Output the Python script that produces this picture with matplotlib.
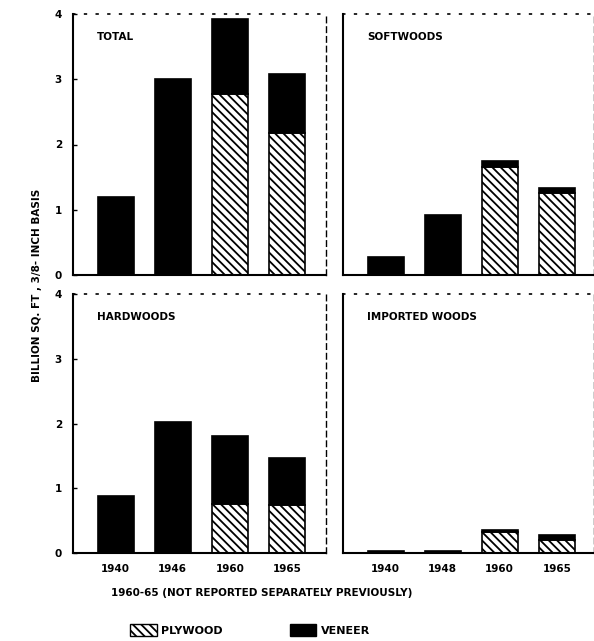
import numpy as np
import matplotlib.pyplot as plt
from matplotlib.patches import Patch

# values, billion sq. ft., 3/8-inch basis
years_left = ['1940', '1946', '1960', '1965']
years_right = ['1940', '1948', '1960', '1965']

total_plywood = [0.0, 0.0, 2.78, 2.18]
total_veneer = [1.2, 3.0, 1.15, 0.9]

soft_plywood = [0.0, 0.0, 1.65, 1.25]
soft_veneer = [0.27, 0.92, 0.1, 0.09]

hard_plywood = [0.0, 0.0, 0.75, 0.74]
hard_veneer = [0.88, 2.02, 1.05, 0.72]

imp_plywood = [0.0, 0.0, 0.32, 0.2]
imp_veneer = [0.03, 0.03, 0.04, 0.08]

panels = [
    ('TOTAL', total_plywood, total_veneer),
    ('SOFTWOODS', soft_plywood, soft_veneer),
    ('HARDWOODS', hard_plywood, hard_veneer),
    ('IMPORTED WOODS', imp_plywood, imp_veneer),
]

plt.rcParams['font.family'] = 'DejaVu Sans'
plt.rcParams['font.weight'] = 'bold'
plt.rcParams['hatch.linewidth'] = 1.3

W, H = 594, 641
fig = plt.figure(figsize=(W / 100, H / 100), dpi=100)

# axes boxes in pixels: (left, top, right, bottom)
boxes = [(73, 14, 326, 275), (343, 14, 594, 275),
         (73, 294, 326, 553), (343, 294, 594, 553)]

bar_w = 0.63
for i, (name, ply, ven) in enumerate(panels):
    l, t, r, b = boxes[i]
    ax = fig.add_axes([l / W, 1 - b / H, (r - l) / W, (b - t) / H])
    x = np.arange(4)
    ply = np.array(ply)
    ven = np.array(ven)
    ax.bar(x, ply, width=bar_w, color='white', edgecolor='black',
           hatch='\\\\\\\\', linewidth=1.2)
    ax.bar(x, ven, width=bar_w, bottom=ply, color='black',
           edgecolor='black', linewidth=1.2)
    ax.set_xlim(-0.75, -0.75 + (r - l) / 57)
    ax.set_ylim(0, 4)
    ax.text(0.095, 0.91, name, transform=ax.transAxes, fontsize=7.5,
            fontweight='bold', ha='left', va='center')

    ax.spines['bottom'].set_linewidth(1.5)
    ax.spines['left'].set_linewidth(1.5)
    ax.spines['top'].set_linestyle((0, (1, 6)))
    ax.spines['top'].set_linewidth(1.2)
    ax.spines['right'].set_linestyle((0, (4, 3)))
    ax.spines['right'].set_linewidth(1.0)

    if i % 2 == 0:
        ax.set_yticks([0, 1, 2, 3, 4])
        ax.tick_params(axis='y', direction='in', length=3, labelsize=7.5,
                       pad=8, width=1)
    else:
        ax.set_yticks([])

    if i >= 2:
        ax.set_xticks(x)
        labels = years_left if i == 2 else years_right
        ax.set_xticklabels(labels, fontsize=7.5, fontweight='bold')
        ax.tick_params(axis='x', length=0, pad=8)
    else:
        ax.set_xticks([])

fig.text(37 / W, 1 - 285 / H, 'BILLION SQ. FT , 3/8- INCH BASIS',
         rotation=90, ha='center', va='center', fontsize=7.5, fontweight='bold')
fig.text(262 / W, 1 - 593 / H, '1960-65 (NOT REPORTED SEPARATELY PREVIOUSLY)',
         ha='center', va='center', fontsize=7.5, fontweight='bold')

handles = [Patch(facecolor='white', edgecolor='black', hatch='\\\\\\\\',
                 label='PLYWOOD'),
           Patch(facecolor='black', edgecolor='black', label='VENEER')]
fig.legend(handles=handles, loc='center', bbox_to_anchor=(250 / W, 1 - 630 / H),
           ncol=2, frameon=False, fontsize=8, handlelength=2.4,
           handleheight=1.4, columnspacing=6, handletextpad=0.4)

fig.savefig('out.png', dpi=100)
